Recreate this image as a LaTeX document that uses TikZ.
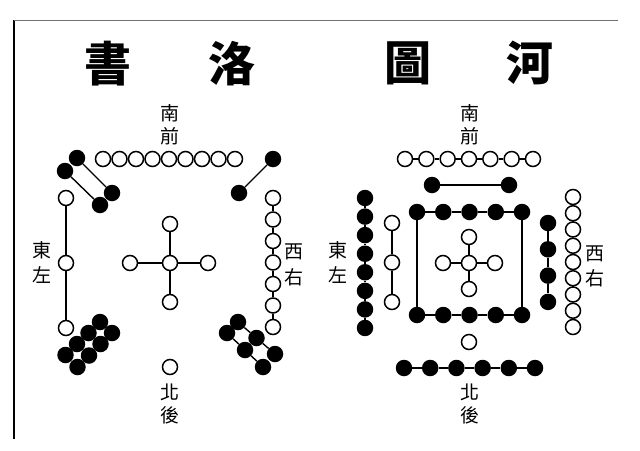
\documentclass[tikz,border=0pt]{standalone}
\usepackage{fontspec}
\newfontfamily\cjk{Noto Sans CJK TC}
\tikzset{
  wc/.style={circle,draw=black,fill=white,line width=1.5pt,inner sep=0pt,minimum size=15pt},
  bc/.style={circle,fill=black,inner sep=0pt,minimum size=16.5pt},
  ln/.style={line width=1.4pt},
  ttl/.style={font=\cjk\bfseries\fontsize{47}{47}\selectfont,inner sep=0pt},
  lbl/.style={font=\cjk\fontsize{19}{19}\selectfont,inner sep=0pt}
}
\begin{document}
\begin{tikzpicture}[x=1pt,y=-1pt]
\useasboundingbox (0,0) rectangle (640,450);
% frame
\coordinate (f1) at (14,20);
\coordinate (f2) at (14,439);
\coordinate (f3) at (618,20);
\draw[line width=2.6pt] (f1) -- (f2);
\draw[line width=0.9pt,black!55] (f1) -- (f3);
% titles
\node[ttl] (t1) at (108,64) {書};
\node[ttl] (t2) at (232,64) {洛};
\node[ttl] (t3) at (408,63) {圖};
\node[ttl] (t4) at (530,63) {河};
% labels left
\node[lbl] (ls1) at (170,113) {南};
\node[lbl] (ls2) at (170,136) {前};
\node[lbl] (le1) at (42,250) {東};
\node[lbl] (le2) at (42,275) {左};
\node[lbl] (lw1) at (294,252) {西};
\node[lbl] (lw2) at (294,277) {右};
\node[lbl] (ln1) at (170,392) {北};
\node[lbl] (ln2) at (170,415) {後};
% labels right
\node[lbl] (rs1) at (470,113) {南};
\node[lbl] (rs2) at (470,136) {前};
\node[lbl] (re1) at (338,250) {東};
\node[lbl] (re2) at (338,275) {左};
\node[lbl] (rw1) at (595,254) {西};
\node[lbl] (rw2) at (595,278) {右};
\node[lbl] (rn1) at (470,392) {北};
\node[lbl] (rn2) at (470,415) {後};

%%%%% Luo Shu
% top 9
\foreach \i in {1,...,9} \node[wc] (lt\i) at ({103+16.5*(\i-1)},159) {};
\foreach \i [count=\j from 2] in {1,...,8} \draw[ln] (lt\i) -- (lt\j);
% top-left 4
\node[bc] (tl1) at (77,158) {};
\node[bc] (tl2) at (112,193) {};
\node[bc] (tl3) at (65,171) {};
\node[bc] (tl4) at (100,205) {};
\draw[ln] (tl1) -- (tl2);
\draw[ln] (tl3) -- (tl4);
% top-right 2
\node[bc] (tr1) at (273,159) {};
\node[bc] (tr2) at (239,193) {};
\draw[ln] (tr1) -- (tr2);
% left 3
\foreach \i in {1,2,3} \node[wc] (lf\i) at (66,{198+65*(\i-1)}) {};
\draw[ln] (lf1) -- (lf2);
\draw[ln] (lf2) -- (lf3);
% center 5
\node[wc] (lc) at (170,263) {};
\node[wc] (lcn) at (170,224) {};
\node[wc] (lcs) at (170,302) {};
\node[wc] (lcw) at (130,263) {};
\node[wc] (lce) at (208,263) {};
\foreach \n in {lcn,lcs,lcw,lce} \draw[ln] (lc) -- (\n);
% bottom 1
\node[wc] (lb) at (170,367) {};
% right 7
\foreach \i in {1,...,7} \node[wc] (lr\i) at (273,{198+21.5*(\i-1)}) {};
\foreach \i [count=\j from 2] in {1,...,6} \draw[ln] (lr\i) -- (lr\j);
% bottom-left 8
\node[bc] (bl1) at (100,322) {};
\node[bc] (bl2) at (88.5,333) {};
\node[bc] (bl3) at (77,344) {};
\node[bc] (bl4) at (65.5,355) {};
\node[bc] (bl5) at (112,333) {};
\node[bc] (bl6) at (100.5,344) {};
\node[bc] (bl7) at (89,355.5) {};
\node[bc] (bl8) at (77.5,367) {};
% bottom-right 6
\node[bc] (br1) at (238,322) {};
\node[bc] (br2) at (256.5,338) {};
\node[bc] (br3) at (275,354) {};
\node[bc] (br4) at (227,333) {};
\node[bc] (br5) at (245,350) {};
\node[bc] (br6) at (263,367) {};
\draw[ln] (br1) -- (br2) -- (br3);
\draw[ln] (br4) -- (br5) -- (br6);

%%%%% He Tu
% top 7
\foreach \i in {1,...,7} \node[wc] (ht\i) at ({405+21.33*(\i-1)},159) {};
\foreach \i [count=\j from 2] in {1,...,6} \draw[ln] (ht\i) -- (ht\j);
% two black
\node[bc] (hb1) at (432,185) {};
\node[bc] (hb2) at (509,185) {};
\draw[ln] (hb1) -- (hb2);
% square
\foreach \i in {1,...,5} {
  \node[bc] (sq\i) at ({417+26.25*(\i-1)},212) {};
  \node[bc] (sb\i) at ({417+26.25*(\i-1)},315) {};
}
\foreach \i [count=\j from 2] in {1,...,4} {
  \draw[ln] (sq\i) -- (sq\j);
  \draw[ln] (sb\i) -- (sb\j);
}
\draw[ln] (sq1) -- (sb1);
\draw[ln] (sq5) -- (sb5);
% center cross
\node[wc] (hc) at (469,263) {};
\node[wc] (hcn) at (469,237) {};
\node[wc] (hcs) at (469,289) {};
\node[wc] (hcw) at (443,263) {};
\node[wc] (hce) at (495,263) {};
\foreach \n in {hcn,hcs,hcw,hce} \draw[ln] (hc) -- (\n);
% open below square
\node[wc] (hu) at (469,342) {};
% left inner 3
\foreach \i in {1,2,3} \node[wc] (hl\i) at (392,{223+39.5*(\i-1)}) {};
\draw[ln] (hl1) -- (hl2);
\draw[ln] (hl2) -- (hl3);
% right inner 4
\foreach \i in {1,...,4} \node[bc] (hr\i) at (548,{223+26.3*(\i-1)}) {};
\foreach \i [count=\j from 2] in {1,...,3} \draw[ln] (hr\i) -- (hr\j);
% left outer 8
\foreach \i in {1,...,8} \node[bc] (ho\i) at (365,{198+18.57*(\i-1)}) {};
\foreach \i [count=\j from 2] in {1,...,7} \draw[ln] (ho\i) -- (ho\j);
% right outer 9
\foreach \i in {1,...,9} \node[wc] (hw\i) at (573,{197+16.25*(\i-1)}) {};
\foreach \i [count=\j from 2] in {1,...,8} \draw[ln] (hw\i) -- (hw\j);
% bottom 6
\foreach \i in {1,...,6} \node[bc] (hd\i) at ({404+26.2*(\i-1)},368) {};
\foreach \i [count=\j from 2] in {1,...,5} \draw[ln] (hd\i) -- (hd\j);
\end{tikzpicture}
\end{document}
